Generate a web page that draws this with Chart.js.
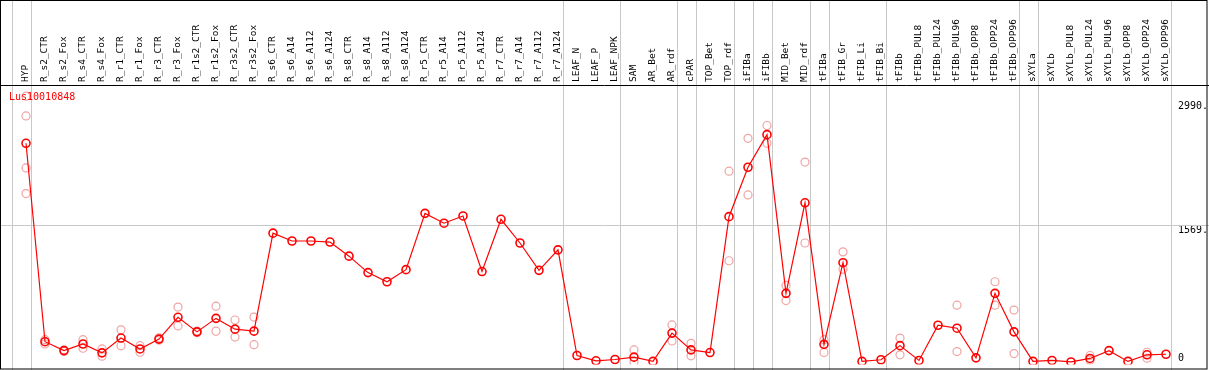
<!DOCTYPE html>
<html>
<head>
<meta charset="utf-8">
<script src="https://cdn.jsdelivr.net/npm/chart.js@4.4.0/dist/chart.umd.min.js"></script>
<style>
  html, body { margin: 0; padding: 0; background: #fff; }
  canvas { display: block; }
</style>
</head>
<body>
<canvas id="expr_graph" width="1209" height="370"></canvas>
<script>
// gene shown in the plot
const gene_name = "Lus10010848";

// sample names (x axis, top)
const samples = [
    "HYP", "R_s2_CTR", "R_s2_Fox", "R_s4_CTR", "R_s4_Fox", "R_r1_CTR", "R_r1_Fox",
    "R_r3_CTR", "R_r3_Fox", "R_r1s2_CTR", "R_r1s2_Fox", "R_r3s2_CTR", "R_r3s2_Fox",
    "R_s6_CTR", "R_s6_A14", "R_s6_A112", "R_s6_A124", "R_s8_CTR", "R_s8_A14", "R_s8_A112", "R_s8_A124",
    "R_r5_CTR", "R_r5_A14", "R_r5_A112", "R_r5_A124", "R_r7_CTR", "R_r7_A14", "R_r7_A112", "R_r7_A124",
    "LEAF_N", "LEAF_P", "LEAF_NPK", "SAM", "AR_Bet", "AR_rdf", "cPAR", "TOP_Bet", "TOP_rdf",
    "iFIBa", "iFIBb", "MID_Bet", "MID_rdf", "tFIBa", "tFIB_Gr", "tFIB_Li", "tFIB_Bi",
    "tFIBb", "tFIBb_PUL8", "tFIBb_PUL24", "tFIBb_PUL96", "tFIBb_OPP8", "tFIBb_OPP24", "tFIBb_OPP96",
    "sXYLa", "sXYLb", "sXYLb_PUL8", "sXYLb_PUL24", "sXYLb_PUL96", "sXYLb_OPP8", "sXYLb_OPP24", "sXYLb_OPP96"
];

// mean expression per sample
const means = [
    2509, 232, 130, 206, 104, 274, 149, 262, 512, 345, 500, 376, 353,
    1478, 1388, 1388, 1376, 1214, 1025, 920, 1059,
    1705, 1592, 1675, 1037, 1637, 1365, 1051, 1286,
    74, 13, 28, 55, 6, 331, 138, 108, 1667,
    2234, 2608, 787, 1826, 202, 1139, 6, 25,
    187, 17, 421, 387, 47, 787, 345,
    6, 17, 0, 40, 130, 6, 82, 88
];

// single replicates (null = hidden behind the mean / not shown)
const rep_1 = [
    3050, 255, 140, 255, 149, 368, 187, 275, 629, 355, 640, 481, 515,
    null, null, null, null, null, null, null, null,
    null, null, null, null, null, null, null, null,
    null, null, null, 138, null, 425, 213, null, 2189,
    2566, 2713, 878, 2294, 255, 1263, null, null,
    274, null, null, 651, null, 920, 595,
    null, null, null, 74, null, null, 111, null
];
const rep_2 = [
    1932, 206, 120, 157, 66, 187, 111, 250, 413, 335, 353, 285, 198,
    null, null, null, null, null, null, null, null,
    null, null, null, null, null, null, null, null,
    null, null, null, 0, null, 240, 70, null, 1161,
    1917, 2509, 704, 1365, 108, 1063, null, null,
    82, null, null, 119, null, 651, 96,
    null, null, null, 20, null, null, 43, null
];
const rep_3 = [2823];
const rep_4 = [2226];

// y axis ticks, shown on the right
const y_ticks       = [0, 1569, 2990];
const y_tick_labels = ["0", "1569.", "2990."];

// index of the last sample of each group (a grey line follows it)
const group_ends = [-1, 0, 28, 31, 34, 35, 37, 38, 39, 41, 42, 45, 52, 53, 60];

const mono = "'DejaVu Sans Mono', monospace";

// frame, group separators, the grid line at 1569 and the gene name
const frame_plugin = {
    id: "frame",
    beforeDatasetsDraw(chart) {
        const ctx = chart.ctx;
        const xs = chart.scales.x;
        const ys = chart.scales.y;
        const W = chart.width, H = chart.height;
        ctx.save();
        ctx.strokeStyle = "#c8c8c8";
        ctx.lineWidth = 1;
        for (let g of group_ends) {
            const px = Math.round(xs.getPixelForValue(g) + 4.5) + 0.5;
            ctx.beginPath();
            ctx.moveTo(px, 0);
            ctx.lineTo(px, H);
            ctx.stroke();
        }
        const gy = Math.round(ys.getPixelForValue(1569)) + 0.5;
        ctx.beginPath();
        ctx.moveTo(0, gy);
        ctx.lineTo(W, gy);
        ctx.stroke();
        ctx.restore();
    },
    afterDraw(chart) {
        const ctx = chart.ctx;
        const W = chart.width, H = chart.height;
        ctx.save();
        ctx.strokeStyle = "#000";
        ctx.lineWidth = 1;
        ctx.strokeRect(0.5, 0.5, W - 2.5, H - 1.5);
        ctx.beginPath();
        ctx.moveTo(0, 85.5);
        ctx.lineTo(W, 85.5);
        ctx.stroke();
        ctx.fillStyle = "#ff0000";
        ctx.font = "10px " + mono;
        ctx.textBaseline = "middle";
        ctx.fillText(gene_name, 9, 97.5);
        ctx.restore();
    }
};

function rep_dataset(values) {
    return {
        data: values,
        showLine: false,
        pointStyle: "circle",
        pointRadius: 4,
        pointBorderWidth: 1.2,
        pointBorderColor: "rgba(236,140,140,0.8)",
        pointBackgroundColor: "rgba(0,0,0,0)",
    };
}

const ctx = document.getElementById("expr_graph").getContext("2d");
const myChart = new Chart(ctx, {
    type: "line",
    data: {
        labels: samples,
        datasets: [
            {
                data: means,
                borderColor: "#ff0000",
                borderWidth: 1.2,
                tension: 0,
                pointStyle: "circle",
                pointRadius: 4,
                pointBorderWidth: 1.6,
                pointBorderColor: "#ff0000",
                pointBackgroundColor: "rgba(0,0,0,0)",
            },
            rep_dataset(rep_1),
            rep_dataset(rep_2),
            rep_dataset(rep_3),
            rep_dataset(rep_4),
        ]
    },
    options: {
        responsive: false,
        animation: false,
        devicePixelRatio: 1,
        layout: { padding: { left: 16.5, right: 0, top: 0, bottom: 1 } },
        plugins: {
            legend: { display: false },
            tooltip: { enabled: false },
        },
        scales: {
            x: {
                type: "category",
                position: "top",
                offset: true,
                grid: { display: false, drawTicks: false },
                border: { display: false },
                afterFit(scale) {
                    scale.height = 85;
                    scale.paddingLeft = 0;
                    scale.paddingRight = 0;
                },
                ticks: {
                    autoSkip: false,
                    minRotation: 90,
                    maxRotation: 90,
                    padding: 3,
                    labelOffset: 10.5,
                    color: "#000",
                    font: { family: mono, size: 9.5 },
                },
            },
            y: {
                position: "right",
                min: -28.3,
                max: 3178,
                grid: { display: false, drawTicks: false },
                border: { display: false },
                afterFit(scale) {
                    scale.width = 33.5;
                    scale.paddingTop = 0;
                    scale.paddingBottom = 0;
                },
                afterBuildTicks(scale) {
                    scale.ticks = y_ticks.map(v => ({ value: v }));
                },
                ticks: {
                    align: "start",
                    padding: 2.5,
                    color: "#000",
                    font: { family: mono, size: 10, lineHeight: 1.8 },
                    callback: function (value) {
                        const i = y_ticks.indexOf(value);
                        // the bottom label sits just above the zero line
                        if (value === 0) return [y_tick_labels[i], ""];
                        return y_tick_labels[i];
                    },
                },
            },
        },
    },
    plugins: [frame_plugin],
});
</script>
</body>
</html>
